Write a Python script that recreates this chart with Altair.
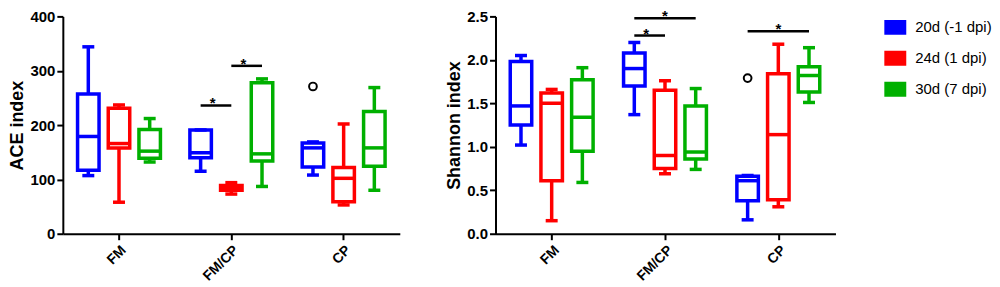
import altair as alt
import pandas as pd

groups = ["FM", "FM/CP", "CP"]
series = ["20d (-1 dpi)", "24d (1 dpi)", "30d (7 dpi)"]
colors = ["#0000FF", "#FF0000", "#00B000"]

# order: FM(blue, red, green), FM/CP(blue, red, green), CP(blue, red, green)
ace_wmin = [107, 58, 132, 115, 73, 87, 108, 53, 80]
ace_q1 = [117, 158, 139, 140, 80, 134, 123, 59, 124]
ace_med = [179, 166, 152, 149, 85, 147, 158, 102, 158]
ace_q3 = [257, 231, 192, 191, 89, 278, 167, 122, 225]
ace_wmax = [344, 237, 212, 191, 94, 285, 169, 202, 269]
ace_out_group = ["CP"]
ace_out_series = ["20d (-1 dpi)"]
ace_out_value = [271]
ace_sig_group = ["FM/CP", "FM/CP"]
ace_sig_from = ["20d (-1 dpi)", "24d (1 dpi)"]
ace_sig_to = ["24d (1 dpi)", "30d (7 dpi)"]
ace_sig_level = [236, 309]

sh_wmin = [1.02, 0.15, 0.59, 1.37, 0.69, 0.74, 0.16, 0.31, 1.51]
sh_q1 = [1.25, 0.61, 0.95, 1.70, 0.75, 0.86, 0.38, 0.39, 1.63]
sh_med = [1.47, 1.50, 1.34, 1.90, 0.90, 0.94, 0.61, 1.14, 1.82]
sh_q3 = [1.98, 1.62, 1.77, 2.08, 1.65, 1.47, 0.66, 1.84, 1.92]
sh_wmax = [2.05, 1.66, 1.91, 2.20, 1.76, 1.67, 0.67, 2.18, 2.14]
sh_out_group = ["CP"]
sh_out_series = ["20d (-1 dpi)"]
sh_out_value = [1.79]
sh_sig_group = ["FM/CP", "FM/CP", "CP"]
sh_sig_from = ["20d (-1 dpi)", "20d (-1 dpi)", "20d (-1 dpi)"]
sh_sig_to = ["30d (7 dpi)", "24d (1 dpi)", "30d (7 dpi)"]
sh_sig_level = [2.48, 2.28, 2.33]

FONT = "Liberation Sans"


def box_df(wmin, q1, med, q3, wmax):
    rows = []
    k = 0
    for g in groups:
        for s in series:
            rows.append(dict(group=g, series=s, s2=s, wmin=wmin[k], q1=q1[k],
                             med=med[k], q3=q3[k], wmax=wmax[k]))
            k += 1
    return pd.DataFrame(rows)


def sig_frames(sg, sf, st, sl):
    line_rows, star_whole, star_half = [], [], []
    for i, (g, a, b, lv) in enumerate(zip(sg, sf, st, sl)):
        line_rows.append(dict(bar=i, group=g, series=a, level=lv))
        line_rows.append(dict(bar=i, group=g, series=b, level=lv))
        ia, ib = series.index(a), series.index(b)
        if (ia + ib) % 2 == 0:
            star_whole.append(dict(group=g, series=series[(ia + ib) // 2], level=lv, t="*"))
        else:
            star_half.append(dict(group=g, series=series[min(ia, ib)], level=lv, t="*"))
    return pd.DataFrame(line_rows), pd.DataFrame(star_whole), pd.DataFrame(star_half)


def panel(box, og, os_, ov, sg, sf, st, sl, title, ymax, yvalues, fmt, width, height):
    xaxis = alt.Axis(title=None, labelAngle=-45, labelFontSize=14, labelFont=FONT,
                     labelFontWeight="bold", labelColor="black", tickSize=6,
                     tickWidth=2, tickColor="black", domainColor="black",
                     domainWidth=2, labelPadding=3, grid=False)
    xscale = alt.Scale(paddingInner=0, paddingOuter=0)
    yaxis = alt.Axis(title=title, values=yvalues, format=fmt, titleFontSize=18,
                     titleFont=FONT, titleFontWeight="bold", titleColor="black",
                     titlePadding=3, labelFontSize=15, labelFont=FONT,
                     labelFontWeight="bold", labelColor="black", labelPadding=2,
                     tickSize=6, tickWidth=2, tickColor="black",
                     domainColor="black", domainWidth=2, grid=False)
    yscale = alt.Scale(domain=[0, ymax], nice=False, zero=True)
    offscale = alt.Scale(paddingInner=0.3, paddingOuter=0.48)
    cscale = alt.Scale(domain=series, range=colors)

    def X():
        return alt.X("group:N", sort=groups, scale=xscale, axis=xaxis)

    def XO():
        return alt.XOffset("series:N", sort=series, scale=offscale)

    def Y(f):
        return alt.Y(f, scale=yscale, axis=yaxis, title=title)

    col_leg = alt.Color("series:N", sort=series, scale=cscale,
                        legend=alt.Legend(title=None, symbolFillColor="white"))
    stroke_none = alt.Stroke("s2:N", sort=series, scale=cscale, legend=None)
    fill_none = alt.Fill("s2:N", sort=series, scale=cscale, legend=None)

    base = alt.Chart(box).encode(x=X(), xOffset=XO())
    sw = 3.5
    boxes = base.mark_bar(filled=False, strokeWidth=sw, opacity=1).encode(
        y=Y("q1:Q"), y2="q3:Q", color=col_leg)
    wlo = base.mark_rule(strokeWidth=sw, opacity=1).encode(
        y=Y("wmin:Q"), y2="q1:Q", stroke=stroke_none)
    whi = base.mark_rule(strokeWidth=sw, opacity=1).encode(
        y=Y("q3:Q"), y2="wmax:Q", stroke=stroke_none)
    caplo = base.mark_tick(thickness=sw, size=12, opacity=1).encode(
        y=Y("wmin:Q"), fill=fill_none)
    caphi = base.mark_tick(thickness=sw, size=12, opacity=1).encode(
        y=Y("wmax:Q"), fill=fill_none)
    med = base.mark_tick(thickness=sw, size=22, opacity=1).encode(
        y=Y("med:Q"), fill=fill_none)

    outdf = pd.DataFrame(dict(group=og, series=os_, value=ov))
    outl = alt.Chart(outdf).mark_point(shape="circle", filled=False, color="black",
                                       size=60, strokeWidth=2, opacity=1).encode(
        x=X(), xOffset=XO(), y=Y("value:Q"))

    ldf, swdf, shdf = sig_frames(sg, sf, st, sl)
    sig = alt.Chart(ldf).mark_line(color="black", strokeWidth=2.5).encode(
        x=X(), xOffset=XO(), y=Y("level:Q"), detail="bar:N")
    layers = [boxes, wlo, whi, caplo, caphi, med, outl, sig]
    txt = dict(color="black", fontSize=15, font=FONT, fontWeight="bold",
               baseline="alphabetic", dy=3)
    if len(swdf):
        layers.append(alt.Chart(swdf).mark_text(**txt).encode(
            x=X(), xOffset=XO(), y=Y("level:Q"), text="t:N"))
    if len(shdf):
        layers.append(alt.Chart(shdf).mark_text(dx=12, **txt).encode(
            x=X(), xOffset=XO(), y=Y("level:Q"), text="t:N"))
    return alt.layer(*layers).properties(width=width, height=height)


left = panel(box_df(ace_wmin, ace_q1, ace_med, ace_q3, ace_wmax),
             ace_out_group, ace_out_series, ace_out_value,
             ace_sig_group, ace_sig_from, ace_sig_to, ace_sig_level,
             "ACE index", 400, [0, 100, 200, 300, 400], "d", 338, 218)
right = panel(box_df(sh_wmin, sh_q1, sh_med, sh_q3, sh_wmax),
              sh_out_group, sh_out_series, sh_out_value,
              sh_sig_group, sh_sig_from, sh_sig_to, sh_sig_level,
              "Shannon index", 2.5, [0, 0.5, 1.0, 1.5, 2.0, 2.5], ".1f", 341, 218)

chart = alt.hconcat(left, right, spacing=46).properties(
    padding={"left": 0, "top": 0, "right": 0, "bottom": 0}
).configure_view(stroke=None).configure_legend(
    orient="right", offset=49, padding=0, symbolType="M-1,-0.63H1V0.63H-1Z",
    symbolSize=361, symbolStrokeWidth=3,
    labelFontSize=15, labelFont=FONT,
    labelColor="black", labelOffset=9, rowPadding=7, labelLimit=300
)

chart.save("out.html", embed_options={"renderer": "svg", "actions": False})
